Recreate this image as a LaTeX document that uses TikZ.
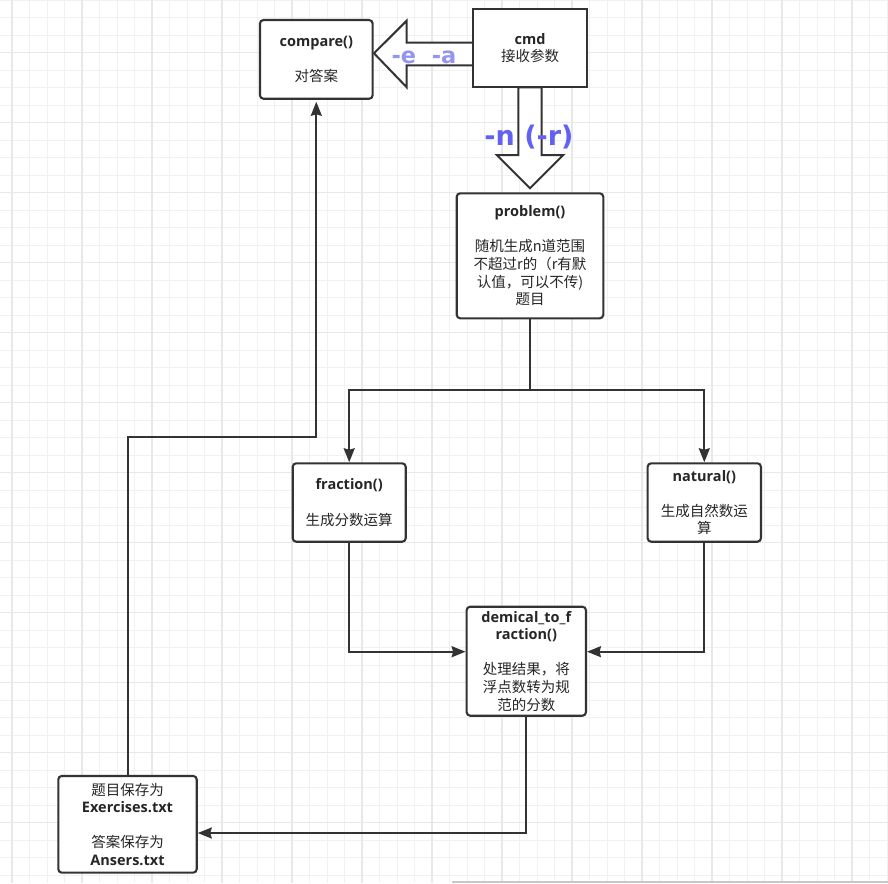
\documentclass[tikz,border=0pt]{standalone}
\usepackage{fontspec}
\setmainfont{Open Sans}
\newfontfamily\cjk{Noto Sans CJK SC}
\newfontfamily\lblfont{DejaVu Sans}
\usetikzlibrary{arrows.meta}
\definecolor{ln}{HTML}{333333}
\definecolor{txt}{HTML}{262626}
\definecolor{gmin}{HTML}{F1F1F1}
\definecolor{gmaj}{HTML}{E8E8E8}
\definecolor{lblA}{HTML}{9494F2}
\definecolor{lblB}{HTML}{6262F0}
\newcommand\zh[1]{{\cjk #1}}
\begin{document}
\begin{tikzpicture}[x=1pt,y=-1pt,
  box/.style={draw=ln, line width=2.1pt, rounded corners=3.5pt, fill=white,
    align=center, inner sep=0pt, text=txt,
    font=\fontsize{14.5}{17.6}\selectfont},
  sqbox/.style={box, rounded corners=0pt},
  conn/.style={draw=ln, line width=2pt, -{Stealth[length=14pt,width=11pt,inset=1.5pt]}},
  plain/.style={draw=ln, line width=2pt},
  blk/.style={draw=ln, line width=2pt, fill=white, line join=miter},
  lblsmall/.style={font=\lblfont\bfseries\fontsize{22.5}{24}\selectfont, text=lblA, inner sep=0pt, anchor=base},
  lblbig/.style={font=\lblfont\bfseries\fontsize{27}{30}\selectfont, text=lblB, inner sep=0pt, anchor=base}
]
\useasboundingbox (0,0) rectangle (888,883);
\fill[white] (0,0) rectangle (888,883);
% grid
\begin{scope}
\clip (0,0) rectangle (888,883);
\foreach \i in {0,...,50} \draw[gmin, line width=1pt] ({12+17.5*\i},0) -- ({12+17.5*\i},883);
\foreach \i in {0,...,50} \draw[gmin, line width=1pt] (0,{0.2+17.5*\i}) -- (888,{0.2+17.5*\i});
\foreach \i in {0,...,12} \draw[gmaj, line width=1.4pt] ({12+70*\i},0) -- ({12+70*\i},883);
\foreach \i in {0,...,12} \draw[gmaj, line width=1.4pt] (0,{52.7+70*\i}) -- (888,{52.7+70*\i});
\end{scope}
\draw[black!22, line width=1.5pt] (452,882) -- (888,882);

% block arrows
\draw[blk] (473,42.7) -- (406.7,42.7) -- (406.7,20.7) -- (374,53.3) -- (406.7,87.3) -- (406.7,65.3) -- (473,65.3) -- cycle;
\draw[blk] (518.3,87.3) -- (518.3,155) -- (496.7,155) -- (530,188.3) -- (563.3,155) -- (541.7,155) -- (541.7,87.3) -- cycle;

% boxes
\node[box, minimum width=112.7pt, minimum height=78.7pt] (compare) at (316.3,59.4)
  {\bfseries compare()\\[17.6pt]\zh{对答案}};
\node[sqbox, minimum width=113.4pt, minimum height=78.3pt] (cmd) at (530,48.2)
  {\bfseries cmd\\\zh{接收参数}};
\node[box, minimum width=146.6pt, minimum height=125pt] (problem) at (530,255.8)
  {\bfseries problem()\\[17.6pt]\zh{随机生成n道范围}\\\zh{不超过r的（r有默}\\\zh{认值，可以不传)}\\\zh{题目}};
\node[box, minimum width=113pt, minimum height=78.4pt] (fraction) at (349.2,502.5)
  {\bfseries fraction()\\[17.6pt]\zh{生成分数运算}};
\node[box, minimum width=113.3pt, minimum height=78.4pt] (natural) at (704.3,502.5)
  {\bfseries natural()\\[17.6pt]\zh{生成自然数运}\\\zh{算}};
\node[box, minimum width=119.3pt, minimum height=109pt] (demical) at (526.3,661.2)
  {\bfseries demical\_to\_f\\\bfseries raction()\\[17.6pt]\zh{处理结果，将}\\\zh{浮点数转为规}\\\zh{范的分数}};
\node[box, minimum width=138.4pt, minimum height=96.7pt] (save) at (127.5,824.3)
  {\zh{题目保存为}\\\bfseries Exercises.txt\\[17.6pt]\zh{答案保存为}\\\bfseries Ansers.txt};

% labels
\node[lblsmall] (lblea) at (424,63.3) {-e\ \ -a};
\node[lblbig] (lblnr) at (529,145) {-n (-r)};

% connectors
\coordinate (split) at (530,390);
\coordinate (bend) at (316.3,437);
\draw[plain] (problem.south) -- (split);
\draw[conn] (split) -| (fraction.north);
\draw[conn] (split) -| (natural.north);
\draw[conn] (fraction.south) |- ([yshift=9.5pt]demical.west);
\draw[conn] (natural.south) |- ([yshift=9.5pt]demical.east);
\draw[conn] (demical.south) |- ([yshift=-8.7pt]save.east);
\draw[conn, shorten >=2pt] (save.north) |- (bend) -- (compare.south);
\end{tikzpicture}
\end{document}
